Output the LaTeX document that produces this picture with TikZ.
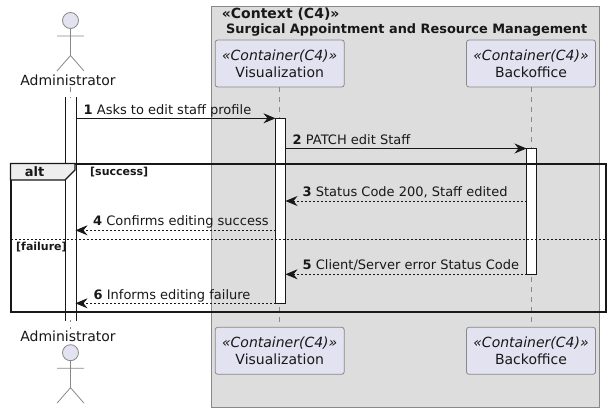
\documentclass[tikz,border=0pt]{standalone}
\usepackage{fontspec}
\setmainfont{DejaVu Sans}
\usetikzlibrary{arrows.meta}
\definecolor{ink}{HTML}{181818}
\definecolor{partfill}{HTML}{E2E2F0}
\definecolor{boxfill}{HTML}{DDDDDD}
\definecolor{boxline}{HTML}{888888}
\definecolor{tabfill}{HTML}{EEEEEE}
\tikzset{
  x=1pt,y=-1pt,
  part/.style={draw=boxline,fill=partfill,rounded corners=2.5pt,line width=.8pt,minimum width=129pt,minimum height=47pt,inner sep=0pt,align=center,text=ink,font=\fontsize{14}{17}\selectfont},
  actorline/.style={draw=boxline,line width=.8pt},
  lifeline/.style={draw=boxline,line width=.7pt,dash pattern=on 5pt off 5pt},
  activation/.style={draw=ink,fill=white,line width=1pt,minimum width=10pt,inner sep=0pt},
  msgs/.style={draw=ink,line width=1pt,-{Stealth[length=12pt,width=10pt,inset=4pt]}},
  retmsg/.style={msgs,line width=.8pt,dash pattern=on 2pt off 2pt},
  msgtext/.style={anchor=base west,inner sep=0pt,text=ink,font=\fontsize{13}{15}\selectfont},
  actortext/.style={anchor=base,inner sep=0pt,text=ink,font=\fontsize{14}{17}\selectfont},
  titletext/.style={anchor=base west,inner sep=0pt,text=ink,font=\fontsize{14}{17}\selectfont\bfseries},
  titletextb/.style={anchor=base west,inner sep=0pt,text=ink,font=\fontsize{12.9}{17}\selectfont\bfseries},
  guardtext/.style={anchor=base west,inner sep=0pt,text=ink,font=\fontsize{11}{13}\selectfont\bfseries},
  framestyle/.style={draw=ink,line width=2pt},
}
\newcommand{\actorfig}[2]{%
  \draw[actorline,fill=partfill] (#1,#2) circle (8);
  \draw[actorline] (#1,#2+8) -- (#1,#2+35)
     (#1-13.5,#2+15.5) -- (#1+13.5,#2+15.5)
     (#1-13.5,#2+50.5) -- (#1,#2+35) -- (#1+13.5,#2+50.5);
}
\begin{document}
\begin{tikzpicture}
\useasboundingbox (0,0) rectangle (611,412);
% context box
\node[draw=boxline,fill=boxfill,line width=.8pt,minimum width=388pt,minimum height=400.5pt,inner sep=0pt] (ctx) at (405.5,206.75) {};
\node[titletext] (t1) at (221.7,18.5) {«Context (C4)»};
\node[titletextb] (t2) at (226,33.5) {Surgical Appointment and Resource Management};
% actors
\actorfig{70.5}{20.5}
\actorfig{70.5}{352.7}
\node[actortext] (admT) at (68,85) {Administrator};
\node[actortext] (admB) at (68,341) {Administrator};
% participants
\node[part] (visT) at (279.7,63.5) {\textit{«Container(C4)»}\\Visualization};
\node[part] (backT) at (531,63.5) {\textit{«Container(C4)»}\\Backoffice};
\node[part] (visB) at (279.7,350.8) {\textit{«Container(C4)»}\\Visualization};
\node[part] (backB) at (531,350.8) {\textit{«Container(C4)»}\\Backoffice};
% lifelines
\coordinate (admLT) at (70.5,87);
\coordinate (admLB) at (70.5,329);
\draw[lifeline] (admLT) -- (admLB);
\draw[lifeline] (visT.south) -- (visB.north);
\draw[lifeline] (backT.south) -- (backB.north);
% activations
\node[activation,minimum height=222pt,draw=none] (admAc) at (70.5,209) {};
\draw[ink,line width=1pt] (admAc.north west) -- (admAc.south west) (admAc.north east) -- (admAc.south east);
\node[activation,minimum height=185.3pt] (visAc) at (280.5,210.8) {};
\node[activation,minimum height=126pt] (backAc) at (531.5,211.5) {};
% messages
\coordinate (m1a) at (75.5,118.3);
\coordinate (m2b) at (526.5,148.5);
\coordinate (m3a) at (526.5,201);
\coordinate (m3b) at (285.5,201);
\coordinate (m4a) at (275.5,230.3);
\coordinate (m4b) at (75.5,230.3);
\coordinate (m5a) at (526.5,274.3);
\coordinate (m5b) at (285.5,274.3);
\coordinate (m6a) at (275.5,303.3);
\coordinate (m6b) at (75.5,303.3);
\coordinate (m1b) at (275.5,118.3);
\coordinate (m2a) at (285.5,148.5);
\draw[msgs] (m1a) -- (m1b);
\draw[msgs] (m2a) -- (m2b);
\draw[retmsg] (m3a) -- (m3b);
\draw[retmsg] (m4a) -- (m4b);
\draw[retmsg] (m5a) -- (m5b);
\draw[retmsg] (m6a) -- (m6b);
\node[msgtext] (l1) at (83.5,114) {\textbf{1} Asks to edit staff profile};
\node[msgtext] (l2) at (292.5,144) {\textbf{2} PATCH edit Staff};
\node[msgtext] (l3) at (302.5,196.5) {\textbf{3} Status Code 200, Staff edited};
\node[msgtext] (l4) at (93,225.5) {\textbf{4} Confirms editing success};
\node[msgtext] (l5) at (302.5,269.5) {\textbf{5} Client/Server error Status Code};
\node[msgtext] (l6) at (93.5,299) {\textbf{6} Informs editing failure};
% alt frame
\draw[framestyle] (10.5,163.5) rectangle (605.5,311.5);
\draw[framestyle,fill=tabfill,line width=1.3pt] (10.5,163.5) -- (75,163.5) -- (75,170) -- (65,180) -- (10.5,180) -- cycle;
\draw[ink,line width=.8pt,dash pattern=on 2pt off 2pt] (10.5,239.3) -- (605.5,239.3);
\node[anchor=base,inner sep=0pt,text=ink,font=\fontsize{13}{15}\selectfont\bfseries] (altL) at (34.5,176) {alt};
\node[guardtext] (g1) at (90,175) {[success]};
\node[guardtext] (g2) at (16,250) {[failure]};
\end{tikzpicture}
\end{document}
